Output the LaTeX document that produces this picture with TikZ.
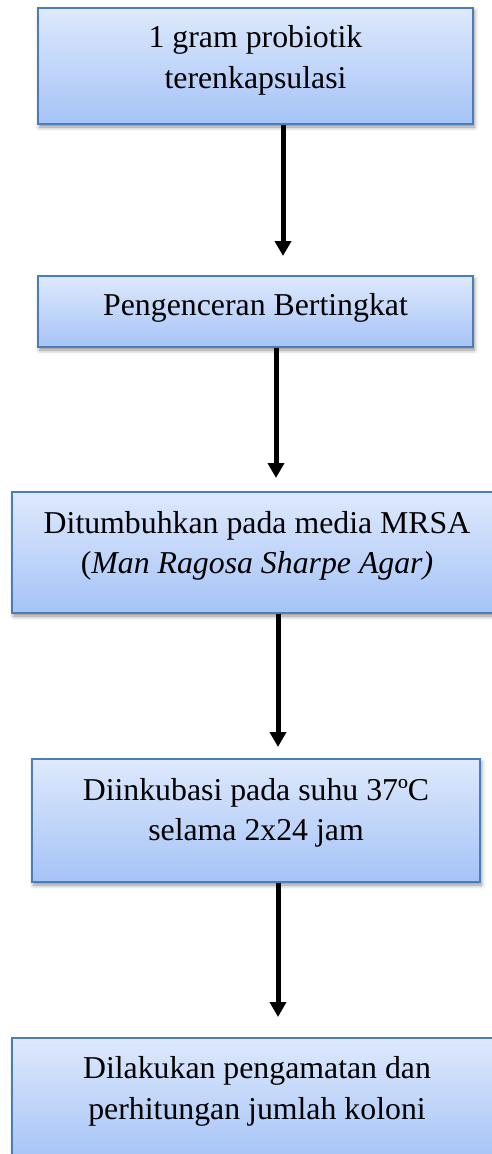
\documentclass[tikz,border=0pt]{standalone}
\usepackage{fontspec}
\setmainfont{Liberation Serif}
\usetikzlibrary{arrows.meta,shadows.blur}
\definecolor{boxedge}{HTML}{4A7EBB}
\definecolor{boxtop}{HTML}{DEE9FC}
\definecolor{boxbottom}{HTML}{A5C3F7}
\begin{document}
\begin{tikzpicture}[x=1pt,y=-1pt,
  stepbox/.style={draw=boxedge,line width=1.3pt,top color=boxtop,bottom color=boxbottom,
    inner sep=0pt,
    blur shadow={shadow xshift=1.5pt,shadow yshift=-3pt,shadow blur radius=4pt,shadow opacity=45}},
  txt/.style={anchor=base,inner sep=0pt,font=\fontsize{31.8}{38}\selectfont},
  flow/.style={line width=5pt,-{Triangle[width=16pt,length=15pt]}}
]
\useasboundingbox (0,0) rectangle (492,1154);
\clip (0,0) rectangle (492,1154);

% process boxes
\node[stepbox,minimum width=435pt,minimum height=116pt] (b1) at (255.5,66) {};
\node[stepbox,minimum width=435pt,minimum height=71pt]  (b2) at (255.5,311.5) {};
\node[stepbox,minimum width=490pt,minimum height=121pt] (b3) at (257,552.5) {};
\node[stepbox,minimum width=448pt,minimum height=123pt] (b4) at (256,820.5) {};
\node[stepbox,minimum width=490pt,minimum height=124pt] (b5) at (257,1100) {};

% box texts
\node[txt] (t1a) at (255.5,47) {1 gram probiotik};
\node[txt] (t1b) at (255.5,88) {terenkapsulasi};
\node[txt] (t2)  at (255.5,315) {Pengenceran Bertingkat};
\node[txt] (t3a) at (257,533) {Ditumbuhkan pada media MRSA};
\node[txt] (t3b) at (257,573) {(\textit{Man Ragosa Sharpe Agar)}};
\node[txt] (t4a) at (256,800) {Diinkubasi pada suhu 37ºC};
\node[txt] (t4b) at (256,840) {selama 2x24 jam};
\node[txt] (t5a) at (257,1078) {Dilakukan pengamatan dan};
\node[txt] (t5b) at (257,1119) {perhitungan jumlah koloni};

% arrow tips
\coordinate (a1) at (283,256);
\coordinate (a2) at (276,478);
\coordinate (a3) at (278,747);
\coordinate (a4) at (278,1017);

% connectors
\draw[flow] (b1.south -| a1) -- (a1);
\draw[flow] (b2.south -| a2) -- (a2);
\draw[flow] (b3.south -| a3) -- (a3);
\draw[flow] (b4.south -| a4) -- (a4);
\end{tikzpicture}
\end{document}
